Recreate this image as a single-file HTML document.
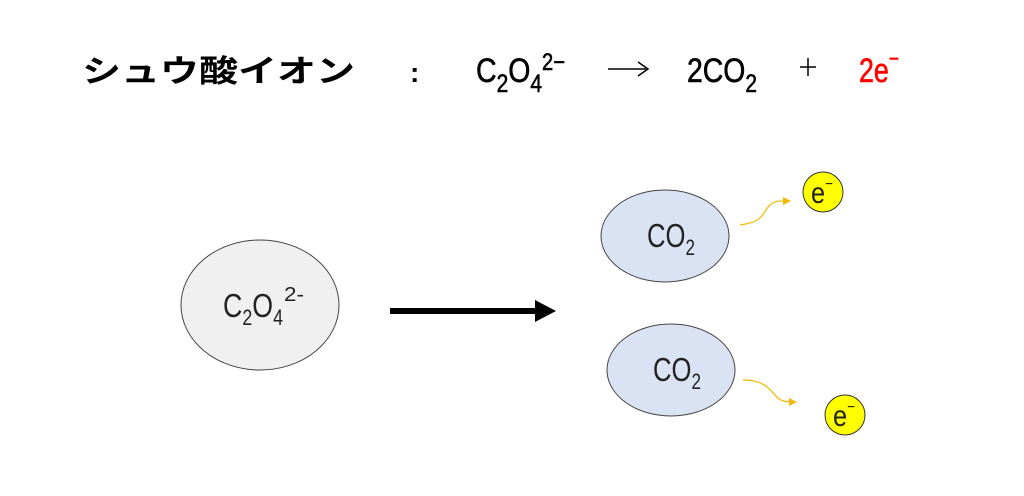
<!DOCTYPE html>
<html><head><meta charset="utf-8"><style>
html,body{margin:0;padding:0;background:#fff;}
svg{display:block;}
</style></head><body>
<svg width="1024" height="496" viewBox="0 0 1024 496" xmlns="http://www.w3.org/2000/svg">
<defs>
<marker id="oa" markerWidth="8" markerHeight="8" refX="6" refY="4" orient="auto" markerUnits="userSpaceOnUse">
<path d="M0,0 L8,4 L0,8 z" fill="#f5b800"/>
</marker>
</defs>
<g font-family="'Liberation Sans','Noto Sans CJK JP',sans-serif" fill="#000">
<text x="82" y="82" font-size="31" textLength="273" lengthAdjust="spacingAndGlyphs" font-weight="bold">シュウ酸イオン</text>
<text x="410" y="82" font-size="28" font-weight="bold">:</text>
<text x="476" y="82" font-size="34" textLength="89" lengthAdjust="spacingAndGlyphs" stroke="#000" stroke-width="0.6">C<tspan font-size="25" dy="10">2</tspan><tspan font-size="34" dy="-10">O</tspan><tspan font-size="25" dy="10">4</tspan><tspan font-size="24" dy="-22">2−</tspan></text>
<line x1="608" y1="69" x2="646" y2="69" stroke="#000" stroke-width="1.5"/>
<path d="M638,62 L648,69 L638,76" fill="none" stroke="#000" stroke-width="1.5"/>
<text x="687" y="82" font-size="34" textLength="70" lengthAdjust="spacingAndGlyphs" stroke="#000" stroke-width="0.6">2CO<tspan font-size="25" dy="10">2</tspan></text>
<line x1="800" y1="67" x2="816" y2="67" stroke="#000" stroke-width="1.5"/>
<line x1="808" y1="58" x2="808" y2="76" stroke="#000" stroke-width="1.5"/>
<text x="859" y="82" font-size="34" textLength="40" lengthAdjust="spacingAndGlyphs" fill="#ff0000" stroke="#ff0000" stroke-width="0.6">2e<tspan font-size="22" dy="-16">−</tspan></text>
</g>
<g font-family="'Liberation Sans',sans-serif" fill="#222">
<ellipse cx="260" cy="305" rx="79" ry="65" fill="#f0f0f0" stroke="#444" stroke-width="1"/>
<text x="223" y="317" font-size="33" textLength="60" lengthAdjust="spacingAndGlyphs">C<tspan font-size="22" dy="8">2</tspan><tspan font-size="33" dy="-8">O</tspan><tspan font-size="22" dy="8">4</tspan></text>
<text x="284" y="301" font-size="20" textLength="20" lengthAdjust="spacingAndGlyphs">2-</text>
<line x1="390" y1="311" x2="537" y2="311" stroke="#000" stroke-width="6"/>
<path d="M535,300 L556,311 L535,322 z" fill="#000"/>
<ellipse cx="665" cy="236" rx="64" ry="46" fill="#dae3f3" stroke="#444" stroke-width="1"/>
<text x="647" y="247" font-size="33" textLength="48" lengthAdjust="spacingAndGlyphs">CO<tspan font-size="22" dy="8">2</tspan></text>
<ellipse cx="671" cy="370" rx="64" ry="46" fill="#dae3f3" stroke="#444" stroke-width="1"/>
<text x="653" y="381" font-size="33" textLength="48" lengthAdjust="spacingAndGlyphs">CO<tspan font-size="22" dy="8">2</tspan></text>
<path d="M740,225 C765,222 762,212 770,205 C775,200 782,201 789,201" fill="none" stroke="#f5b800" stroke-width="1.2" marker-end="url(#oa)"/>
<path d="M743,380 C765,380 770,390 775,395 C780,402 788,402 795,402" fill="none" stroke="#f5b800" stroke-width="1.2" marker-end="url(#oa)"/>
<circle cx="823" cy="192" r="20" fill="#ffff00" stroke="#333" stroke-width="1"/>
<text x="811" y="203" font-size="30" textLength="22" lengthAdjust="spacingAndGlyphs">e<tspan font-size="16" dy="-14">−</tspan></text>
<circle cx="845" cy="415" r="20" fill="#ffff00" stroke="#333" stroke-width="1"/>
<text x="833" y="426" font-size="30" textLength="22" lengthAdjust="spacingAndGlyphs">e<tspan font-size="16" dy="-14">−</tspan></text>
</g>
</svg>
</body></html>
